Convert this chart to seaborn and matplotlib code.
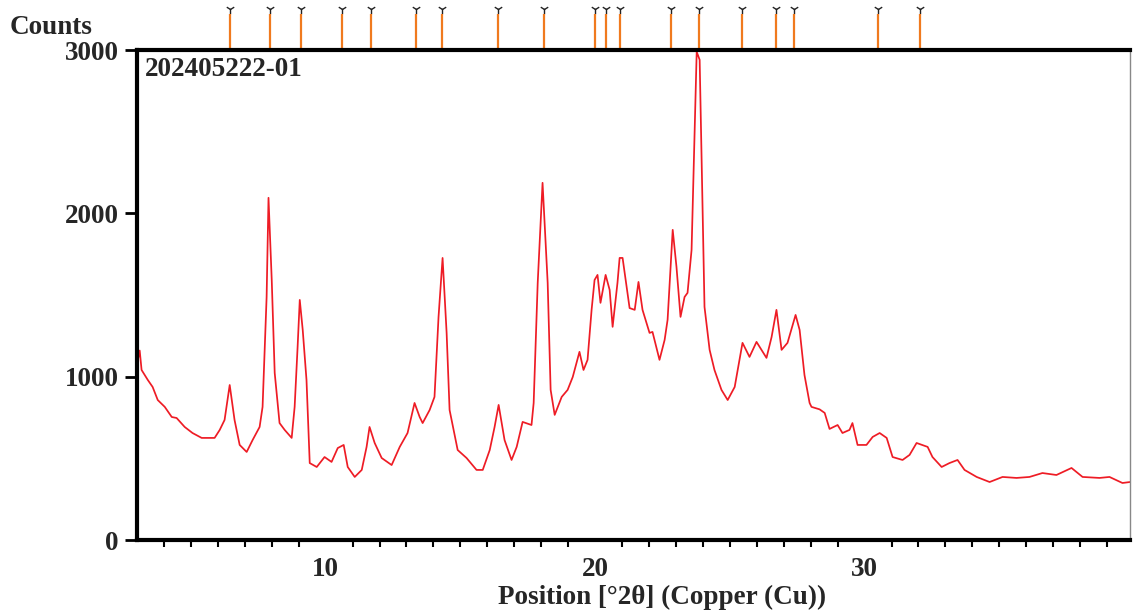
import matplotlib
matplotlib.use("Agg")
import matplotlib.pyplot as plt
import seaborn as sns
import pandas as pd

# ---- data ----
two_theta = [
    3.03, 3.10, 3.17, 3.40, 3.58, 3.77, 4.03, 4.29, 4.47, 4.77, 5.06, 5.40, 5.88,
    6.07, 6.25, 6.44, 6.62, 6.81, 7.07, 7.29, 7.55, 7.66, 7.81, 7.88, 8.00, 8.11,
    8.29, 8.48, 8.74, 8.85, 8.96, 9.04, 9.15, 9.29, 9.41, 9.67, 9.96, 10.22, 10.45,
    10.67, 10.82, 11.08, 11.34, 11.52, 11.63, 11.82, 12.08, 12.45, 12.75, 13.04,
    13.30, 13.49, 13.60, 13.86, 14.04, 14.19, 14.34, 14.49, 14.60, 14.90, 15.23,
    15.60, 15.83, 16.09, 16.27, 16.42, 16.64, 16.90, 17.09, 17.31, 17.64, 17.72,
    17.87, 18.05, 18.24, 18.35, 18.50, 18.76, 18.98, 19.17, 19.42, 19.57, 19.72,
    19.87, 19.98, 20.09, 20.20, 20.39, 20.54, 20.65, 20.83, 20.91, 21.02, 21.28,
    21.47, 21.61, 21.76, 22.02, 22.13, 22.39, 22.58, 22.69, 22.88, 23.02, 23.17,
    23.32, 23.43, 23.58, 23.77, 23.88, 24.06, 24.25, 24.43, 24.69, 24.92, 25.18,
    25.47, 25.73, 25.99, 26.36, 26.55, 26.73, 26.92, 27.14, 27.44, 27.59, 27.77,
    27.96, 28.03, 28.33, 28.52, 28.70, 29.00, 29.18, 29.44, 29.55, 29.74, 30.07,
    30.30, 30.56, 30.82, 31.04, 31.41, 31.67, 31.93, 32.34, 32.52, 32.86, 33.15,
    33.45, 33.71, 34.16, 34.64, 35.12, 35.64, 36.12, 36.60, 37.12, 37.68, 38.09,
    38.72, 39.09, 39.57, 39.85,
]
counts = [
    1100, 1160, 1041, 980, 937, 857, 815, 753, 747, 692, 655, 625, 625,
    674, 735, 949, 735, 582, 539, 612, 692, 815, 1488, 2095, 1592, 1023,
    716, 674, 625, 815, 1182, 1470, 1286, 980, 471, 447, 508, 478, 563,
    582, 447, 386, 429, 570, 692, 594, 502, 459, 570, 655,
    839, 753, 716, 796, 876, 1366, 1727, 1268, 796, 551, 502,
    429, 429, 551, 692, 827, 612, 490, 570, 723, 704, 839,
    1574, 2187, 1574, 919, 766, 876, 919, 998, 1152, 1041, 1103,
    1409, 1592, 1623, 1452, 1623, 1531, 1305, 1574, 1727, 1727, 1420,
    1409, 1580, 1409, 1268, 1274, 1103, 1225, 1348, 1899, 1672, 1366,
    1488, 1513, 1776, 2989, 2940, 1427, 1164, 1041, 919, 857, 937,
    1207, 1121, 1213, 1115, 1243, 1409, 1164, 1207, 1378, 1286, 1010,
    839, 815, 800, 778, 680, 704, 655, 674, 716, 582, 582,
    631, 655, 625, 508, 490, 521, 594, 570, 508, 447, 471,
    490, 429, 386, 355, 386, 380, 386, 410, 398, 441, 386,
    380, 386, 349, 355,
]
ref_positions = [6.44, 7.93, 9.07, 10.59, 11.67, 13.37, 14.33, 16.41, 18.11,
                 20.00, 20.41, 20.93, 22.81, 23.85, 25.44, 26.70, 27.37,
                 30.48, 32.07]
y_ticks = [0, 1000, 2000, 3000]
x_ticks = [10, 20, 30]
sample_name = "202405222-01"

df = pd.DataFrame({"pos": two_theta, "counts": counts})

sns.set_style("white")
plt.rcParams["font.family"] = ["Liberation Serif", "DejaVu Serif"]
plt.rcParams["font.weight"] = "bold"

FS = 19.5

fig = plt.figure(figsize=(11.33, 6.13), dpi=100)
ax = fig.add_axes([137 / 1133, 1 - 540 / 613, (1130 - 137) / 1133, 490 / 613])

sns.lineplot(data=df, x="pos", y="counts", ax=ax, color="#ee1c25",
             linewidth=1.25, estimator=None, sort=False)

ax.set_xlim(3.0, 39.85)
ax.set_ylim(0, 3000)

ax.set_yticks(y_ticks)
ax.set_yticklabels([str(v) for v in y_ticks])
ax.set_xticks(x_ticks)
ax.set_xticklabels([str(v) for v in x_ticks])
ax.set_xticks(list(range(4, 40)), minor=True)

ax.tick_params(axis="both", which="major", direction="out", length=9, width=2,
               color="black", labelsize=FS, pad=4)
ax.tick_params(axis="x", which="major", length=11, pad=1)
ax.tick_params(axis="x", which="minor", direction="out", length=5, width=1.5,
               color="black", bottom=True)
ax.tick_params(axis="y", which="major", left=True)
for lab in ax.get_xticklabels() + ax.get_yticklabels():
    lab.set_fontweight("bold")

for side in ["left", "bottom", "top"]:
    ax.spines[side].set_visible(True)
    ax.spines[side].set_color("black")
    ax.spines[side].set_linewidth(3)
ax.spines["right"].set_visible(True)
ax.spines["right"].set_color("#888888")
ax.spines["right"].set_linewidth(1)

ax.set_xlabel("Position [°2θ] (Copper (Cu))", fontsize=FS, fontweight="bold",
              labelpad=2)
ax.xaxis.label.set_x(0.529)
ax.set_ylabel("")

# reference pattern markers above the plot
xt = ax.get_xaxis_transform()
ax.vlines(ref_positions, 1.0, 1.073, transform=xt, colors="#f07a1e",
          linewidth=1.6, clip_on=False)
ax.scatter(ref_positions, [1.083] * len(ref_positions), transform=xt,
           marker="1", s=45, color="#222222", linewidths=1.0, clip_on=False)

ax.text(0.008, 0.985, sample_name, transform=ax.transAxes, ha="left", va="top",
        fontsize=FS, fontweight="bold")
fig.text(10 / 1133, 1 - 28 / 613, "Counts", ha="left", va="center",
         fontsize=FS, fontweight="bold")

fig.savefig("out.png", dpi=100, facecolor="white")
